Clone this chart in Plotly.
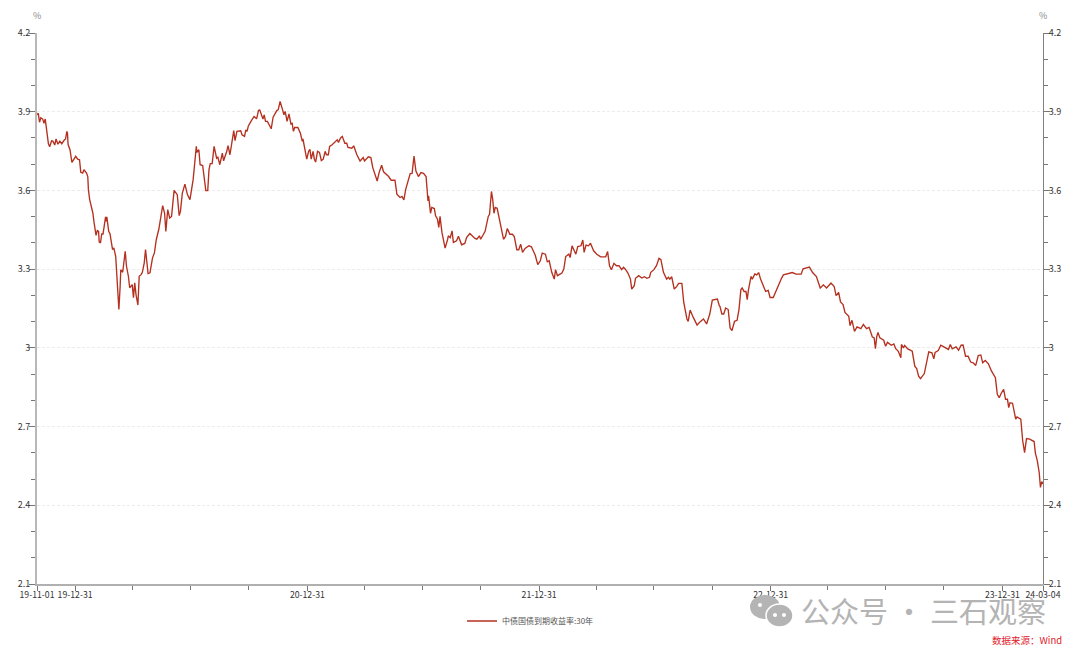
from datetime import date, timedelta
import plotly.graph_objects as go

START = date(2019, 11, 1)
SERIES_NAME = "中债国债到期收益率:30年"
Y_TICKS = [2.1, 2.4, 2.7, 3.0, 3.3, 3.6, 3.9, 4.2]
Y_LABELS = ["2.1", "2.4", "2.7", "3", "3.3", "3.6", "3.9", "4.2"]
Y_MINOR = [2.2, 2.3, 2.5, 2.6, 2.8, 2.9, 3.1, 3.2, 3.4, 3.5, 3.7, 3.8, 4.0, 4.1]
X_TICKS = ["2019-11-01", "2019-12-31", "2020-12-31", "2021-12-31", "2022-12-31", "2023-12-31", "2024-03-04"]
X_LABELS = ["19-11-01", "19-12-31", "20-12-31", "21-12-31", "22-12-31", "23-12-31", "24-03-04"]
X_MINOR = ["2020-03-31", "2020-06-30", "2020-09-30", "2021-03-31", "2021-06-30", "2021-09-30",
           "2022-03-31", "2022-06-30", "2022-09-30", "2023-03-31", "2023-06-30", "2023-09-30"]

# (days since START, yield %)
part_2019_2020 = [
(0,3.888),(2,3.894),(4,3.860),(6,3.877),(9,3.872),(11,3.856),(13,3.872),(16,3.821),(18,3.778),(20,3.766),
(23,3.789),(25,3.788),(28,3.773),(30,3.796),(33,3.776),(36,3.788),(39,3.778),(43,3.792),(45,3.796),(47,3.825),
(48,3.818),(49,3.775),(52,3.755),(55,3.707),(57,3.714),(61,3.730),(64,3.719),(67,3.717),(69,3.669),(72,3.666),
(74,3.679),(78,3.666),(80,3.653),(81,3.603),(83,3.565),(88,3.514),(90,3.476),(93,3.429),(95,3.447),(97,3.444),
(98,3.404),(100,3.400),(102,3.434),(104,3.434),(107,3.482),(108,3.499),(109,3.482),(110,3.499),(113,3.444),(115,3.435),
(119,3.375),(121,3.381),(124,3.349),(125,3.311),(127,3.235),(129,3.146),(131,3.235),(132,3.298),(135,3.288),(139,3.368),
(141,3.311),(144,3.273),(146,3.229),(150,3.241),(152,3.191),(154,3.248),(156,3.203),(159,3.163),(161,3.273),(164,3.279),
(166,3.288),(169,3.324),(171,3.375),(173,3.324),(175,3.283),(178,3.286),(180,3.324),(182,3.343),(185,3.362),(188,3.413),
(192,3.453),(194,3.482),(197,3.514),(198,3.542),(201,3.514),(203,3.444),(206,3.527),(209,3.495),(212,3.501),(215,3.565),
(216,3.600),(221,3.584),(224,3.504),(226,3.520),(229,3.590),(233,3.624),(237,3.584),(241,3.565),(246,3.641),(251,3.768),
(252,3.745),(255,3.755),(257,3.698),(261,3.695),(264,3.641),(266,3.599),(269,3.599),(271,3.679),(273,3.702),(276,3.702),
(279,3.768),(283,3.723),(285,3.727),(288,3.698),(292,3.742),(294,3.713),(299,3.749),(301,3.771),(304,3.736),(308,3.793),
(310,3.828),(312,3.790),(315,3.825),(321,3.827),(323,3.812),(327,3.806),(329,3.831),(331,3.825),(333,3.846),(338,3.867),
(342,3.882),(346,3.873),(349,3.905),(351,3.906),(354,3.888),(356,3.872),(358,3.888),(360,3.863),(363,3.863),(369,3.835),
(372,3.879),(378,3.905),(380,3.907),(383,3.939),(387,3.907),(389,3.888),(391,3.901),(394,3.863),(397,3.892),(400,3.854),
(402,3.856),(404,3.825),(406,3.840),(411,3.840),(415,3.818),(418,3.787),(419,3.796),(421,3.768),(425,3.719),(428,3.749),
(430,3.757),(432,3.719),(435,3.749),(437,3.719),(439,3.708),(442,3.749),(445,3.745),(448,3.714),(451,3.719),(454,3.749),
(456,3.736),(459,3.736),(461,3.768),(465,3.774),(469,3.783),(473,3.793),(475,3.783),(478,3.799),(481,3.806),(485,3.780),
(488,3.780),(490,3.764),(496,3.761),(499,3.770),(504,3.736),(508,3.714),
]
part_2021_2022 = [
(509,3.712),(514,3.725),(516,3.712),(522,3.728),(526,3.725),(529,3.687),(533,3.662),(536,3.636),(539,3.668),(543,3.696),
(546,3.671),(554,3.653),(558,3.639),(564,3.639),(567,3.586),(572,3.573),(575,3.577),(578,3.564),(581,3.605),(584,3.630),
(588,3.664),(591,3.665),(594,3.731),(597,3.674),(601,3.653),(605,3.668),(609,3.665),(613,3.653),(616,3.560),(617,3.579),
(620,3.513),(622,3.535),(626,3.531),(628,3.503),(631,3.490),(633,3.459),(635,3.501),(638,3.440),(640,3.412),(643,3.380),
(647,3.414),(648,3.427),(651,3.420),(654,3.446),(656,3.402),(661,3.408),(664,3.425),(669,3.393),(674,3.398),(677,3.421),
(682,3.436),(690,3.417),(693,3.414),(697,3.427),(699,3.414),(706,3.444),(711,3.501),(713,3.509),(716,3.596),(718,3.566),
(720,3.513),(722,3.535),(725,3.532),(730,3.478),(732,3.452),(733,3.440),(735,3.414),(738,3.424),(741,3.455),(745,3.433),
(749,3.433),(752,3.424),(756,3.374),(759,3.374),(762,3.395),(765,3.364),(769,3.379),(775,3.389),(779,3.385),(785,3.353),
(789,3.317),(793,3.332),(796,3.361),(801,3.357),(804,3.328),(807,3.332),(811,3.288),(815,3.262),(817,3.298),(820,3.275),
(827,3.285),(830,3.300),(833,3.348),(838,3.357),(840,3.344),(843,3.389),(846,3.370),(849,3.357),(852,3.386),(857,3.389),
(860,3.411),(862,3.364),(865,3.392),(869,3.389),(872,3.399),(877,3.370),(882,3.357),(888,3.347),(896,3.347),(899,3.367),
(902,3.313),(905,3.298),(909,3.322),(913,3.313),(917,3.313),(921,3.298),(924,3.307),(927,3.300),(931,3.285),(935,3.262),
(937,3.224),(941,3.237),(943,3.265),(948,3.275),(953,3.266),(957,3.271),(961,3.265),(965,3.269),(967,3.288),(972,3.298),
(976,3.313),(980,3.341),(983,3.336),(987,3.288),(992,3.262),(995,3.269),(997,3.262),(1000,3.271),(1004,3.224),(1008,3.234),
(1011,3.246),(1016,3.246),(1019,3.173),(1024,3.110),(1026,3.101),(1029,3.144),(1034,3.116),(1040,3.087),(1045,3.100),
(1050,3.110),(1055,3.091),(1060,3.129),(1064,3.182),(1072,3.186),(1075,3.161),
]
part_2023_2024 = [
(1076,3.158),(1079,3.129),(1082,3.129),(1085,3.152),(1089,3.146),(1092,3.076),(1095,3.066),(1099,3.101),(1103,3.105),(1106,3.146),
(1109,3.222),(1111,3.228),(1114,3.215),(1117,3.215),(1119,3.184),(1121,3.222),(1125,3.272),(1127,3.262),(1131,3.282),(1134,3.278),
(1137,3.287),(1140,3.262),(1144,3.240),(1148,3.215),(1152,3.219),(1155,3.192),(1160,3.192),(1165,3.222),(1171,3.259),(1173,3.265),
(1176,3.278),(1186,3.285),(1190,3.287),(1196,3.281),(1204,3.281),(1207,3.301),(1217,3.308),(1222,3.287),(1228,3.272),(1234,3.228),
(1239,3.240),(1244,3.228),(1251,3.247),(1256,3.234),(1259,3.199),(1263,3.211),(1266,3.175),(1270,3.165),(1273,3.135),(1279,3.120),
(1281,3.085),(1284,3.105),(1288,3.063),(1292,3.080),(1298,3.073),(1302,3.089),(1307,3.073),(1311,3.078),(1316,3.042),(1319,3.038),
(1321,2.997),(1323,3.042),(1325,3.059),(1328,3.038),(1334,3.029),(1337,3.006),(1340,3.021),(1346,3.010),(1350,3.015),(1353,2.997),
(1357,2.987),(1361,2.962),(1362,3.013),(1365,3.000),(1367,3.009),(1372,2.996),(1379,2.987),(1383,2.930),(1386,2.921),(1389,2.892),
(1392,2.883),(1398,2.902),(1402,2.949),(1405,2.985),(1410,2.981),(1413,2.958),(1415,2.983),(1420,2.990),(1424,3.010),(1429,3.002),
(1436,2.994),(1439,3.013),(1442,2.996),(1448,3.004),(1452,2.991),(1456,3.010),(1459,3.011),(1463,2.968),(1467,2.968),(1471,2.946),
(1475,2.943),(1479,2.933),(1483,2.971),(1487,2.973),(1490,2.943),(1494,2.952),(1499,2.939),(1504,2.911),(1508,2.890),(1510,2.886),
(1513,2.823),(1516,2.810),(1519,2.826),(1523,2.842),(1526,2.804),(1529,2.804),(1531,2.772),(1533,2.791),(1537,2.789),(1542,2.728),
(1544,2.737),(1550,2.728),(1553,2.646),(1556,2.601),(1559,2.654),(1564,2.652),(1571,2.643),(1573,2.599),(1576,2.570),(1579,2.525),
(1581,2.468),(1583,2.490),(1585,2.481),
]

readings = part_2019_2020 + part_2021_2022 + part_2023_2024
dates = [START + timedelta(days=d) for d, _ in readings]
yields = [v for _, v in readings]

W, H = 1080, 655
L, R, T, B = 37, 1043, 33, 584
FONT = "Noto Sans CJK SC, Noto Sans, sans-serif"
GRID = "#ececec"
LINE = "#b5301f"
def px(x): return (x - L) / (R - L)
def py(y): return (B - y) / (B - T)

fig = go.Figure()
fig.add_trace(go.Scatter(x=dates, y=yields, mode="lines", name=SERIES_NAME,
                         line=dict(color=LINE, width=1.35, shape="linear")))
fig.add_trace(go.Scatter(x=dates[:1], y=yields[:1], yaxis="y2", mode="lines", showlegend=False,
                         hoverinfo="skip", line=dict(color="rgba(0,0,0,0)", width=0)))

yax = dict(range=[2.1, 4.2], tickmode="array", tickvals=Y_TICKS, ticktext=Y_LABELS,
           ticks="outside", ticklen=6, tickwidth=1, tickcolor="#777777", ticklabelstandoff=-3,
           tickfont=dict(size=9, color="#333333", family=FONT),
           minor=dict(tickmode="array", tickvals=Y_MINOR, ticks="outside", ticklen=4, tickwidth=1,
                      tickcolor="#777777", showgrid=False),
           zeroline=False, fixedrange=True)

fig.update_layout(
    width=W, height=H, autosize=False,
    margin=dict(l=L, r=W - R, t=T, b=H - B, pad=0),
    paper_bgcolor="white", plot_bgcolor="white",
    showlegend=True,
    legend=dict(orientation="h", x=px(462), y=py(621), xanchor="left", yanchor="middle",
                font=dict(size=8, color="#555555", family=FONT), bgcolor="rgba(0,0,0,0)"),
    xaxis=dict(type="date", range=[X_TICKS[0], X_TICKS[-1]], tickmode="array", tickvals=X_TICKS,
               ticktext=X_LABELS, ticks="outside", ticklen=5, tickwidth=1, tickcolor="#777777",
               ticklabelstandoff=-3,
               tickangle=0, tickfont=dict(size=8.7, color="#333333", family=FONT),
               minor=dict(tickmode="array", tickvals=X_MINOR, ticks="outside", ticklen=4, tickwidth=1,
                          tickcolor="#777777", showgrid=False),
               showgrid=False, showline=True, linecolor="#b0b0b0", linewidth=1.5, zeroline=False),
    yaxis=dict(**yax, side="left", showgrid=True, gridcolor=GRID, griddash="3px,2px", gridwidth=1,
               showline=True, linecolor="#b8b8b8", linewidth=2),
    yaxis2=dict(**yax, side="right", overlaying="y", showgrid=False,
                showline=True, linecolor="#808080", linewidth=1),
    annotations=[
        dict(text="%", x=px(37), y=py(16), xref="paper", yref="paper", showarrow=False,
             xanchor="center", yanchor="middle", font=dict(size=9, color="#888888", family=FONT)),
        dict(text="%", x=px(1043), y=py(16), xref="paper", yref="paper", showarrow=False,
             xanchor="center", yanchor="middle", font=dict(size=9, color="#888888", family=FONT)),
        dict(text="公众号 · 三石观察", x=px(799), y=py(610), xref="paper", yref="paper", showarrow=False,
             xanchor="left", yanchor="middle", font=dict(size=29, color="#b4b4b4", family=FONT)),
        dict(text="数据来源：Wind", x=px(1064), y=py(640), xref="paper", yref="paper", showarrow=False,
             xanchor="right", yanchor="middle", font=dict(size=9.5, color="#e0202c", family=FONT)),
    ],
    shapes=[
        dict(type="circle", xref="paper", yref="paper", x0=px(750), x1=px(780), y0=py(595), y1=py(619),
             fillcolor="#b4b4b4", line=dict(width=0), layer="above"),
        dict(type="circle", xref="paper", yref="paper", x0=px(766), x1=px(793), y0=py(604), y1=py(627),
             fillcolor="#b4b4b4", line=dict(color="white", width=1.5), layer="above"),
        dict(type="circle", xref="paper", yref="paper", x0=px(758), x1=px(762), y0=py(603), y1=py(607),
             fillcolor="white", line=dict(width=0), layer="above"),
        dict(type="circle", xref="paper", yref="paper", x0=px(773), x1=px(777), y0=py(613), y1=py(617),
             fillcolor="white", line=dict(width=0), layer="above"),
        dict(type="circle", xref="paper", yref="paper", x0=px(782), x1=px(786), y0=py(613), y1=py(617),
             fillcolor="white", line=dict(width=0), layer="above"),
    ],
)

fig.write_html("out.html", config={"displayModeBar": False},
               post_script="document.body.style.margin='0';")
